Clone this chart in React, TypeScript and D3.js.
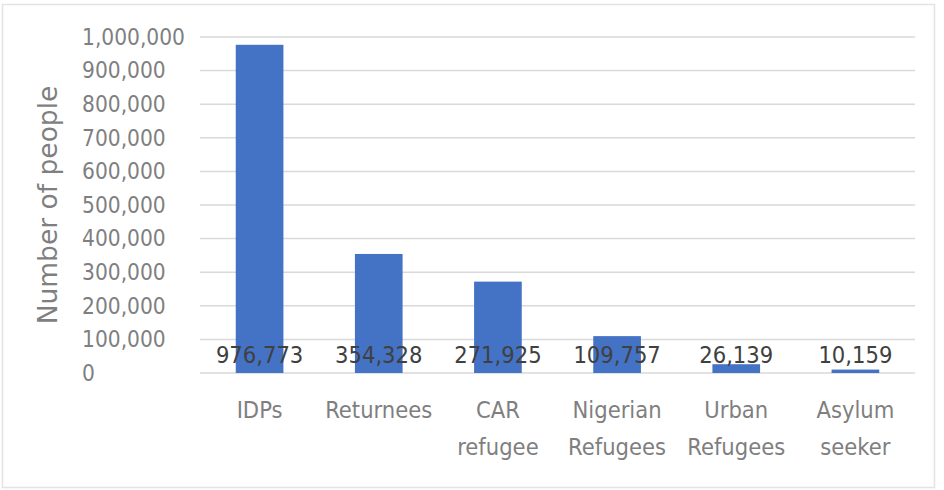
import React, { useEffect, useRef } from 'react';
import * as d3 from 'd3';

const categories = ['IDPs', 'Returnees', 'CAR refugee', 'Nigerian Refugees', 'Urban Refugees', 'Asylum seeker'];
const categoryLines = [['IDPs'], ['Returnees'], ['CAR', 'refugee'], ['Nigerian', 'Refugees'], ['Urban', 'Refugees'], ['Asylum', 'seeker']];
const values = [976773, 354328, 271925, 109757, 26139, 10159];
const yTicks = [0, 100000, 200000, 300000, 400000, 500000, 600000, 700000, 800000, 900000, 1000000];

const FONT = '"DejaVu Sans Condensed", "Liberation Sans Narrow", "Liberation Sans", sans-serif';
const TITLE_FONT = '"DejaVu Sans", "Liberation Sans", sans-serif';

const App: React.FC = () => {
  const svgRef = useRef<SVGSVGElement>(null);

  useEffect(() => {
    if (!svgRef.current) return;
    const width = 944;
    const height = 490;
    const margin = { top: 37, right: 29, bottom: 117, left: 200 };

    d3.select(svgRef.current).selectAll('*').remove();
    const svg = d3.select(svgRef.current).attr('width', width).attr('height', height);

    // chart frame
    svg.append('rect')
      .attr('x', 2.5).attr('y', 4.5)
      .attr('width', 932).attr('height', 483)
      .attr('fill', '#fff')
      .attr('stroke', '#e3e3e3')
      .attr('stroke-width', 1.5);

    const x = d3.scaleBand()
      .domain(categories)
      .range([margin.left, width - margin.right])
      .paddingInner(0.6)
      .paddingOuter(0.3);

    const y = d3.scaleLinear()
      .domain([0, 1000000])
      .range([height - margin.bottom, margin.top]);

    // gridlines
    svg.append('g')
      .selectAll('line')
      .data(yTicks)
      .enter()
      .append('line')
      .attr('x1', margin.left)
      .attr('x2', width - margin.right)
      .attr('y1', d => y(d))
      .attr('y2', d => y(d))
      .attr('stroke', '#d9d9d9')
      .attr('stroke-width', 1.5);

    // y tick labels (left aligned like the original)
    svg.append('g')
      .selectAll('text')
      .data(yTicks)
      .enter()
      .append('text')
      .attr('x', 82)
      .attr('y', d => y(d))
      .attr('dy', '0.35em')
      .attr('font-family', FONT)
      .attr('font-size', 22.5)
      .attr('fill', '#7f7f7f')
      .text(d => d3.format(',')(d));

    // bars
    svg.append('g')
      .selectAll('rect')
      .data(values)
      .enter()
      .append('rect')
      .attr('x', (_, i) => x(categories[i]) as number)
      .attr('y', d => y(d))
      .attr('width', x.bandwidth())
      .attr('height', d => y(0) - y(d))
      .attr('fill', '#4472c4');

    // data labels at inside base
    svg.append('g')
      .selectAll('text')
      .data(values)
      .enter()
      .append('text')
      .attr('x', (_, i) => (x(categories[i]) as number) + x.bandwidth() / 2)
      .attr('y', y(0) - 18)
      .attr('dy', '0.35em')
      .attr('text-anchor', 'middle')
      .attr('font-family', FONT)
      .attr('font-size', 23.5)
      .attr('fill', '#404040')
      .text(d => d3.format(',')(d));

    // category labels
    const cat = svg.append('g')
      .selectAll('text')
      .data(categoryLines)
      .enter()
      .append('text')
      .attr('x', (_, i) => (x(categories[i]) as number) + x.bandwidth() / 2)
      .attr('y', 410)
      .attr('dy', '0.35em')
      .attr('text-anchor', 'middle')
      .attr('font-family', FONT)
      .attr('font-size', 23.5)
      .attr('fill', '#7f7f7f');
    cat.selectAll('tspan')
      .data(d => d)
      .enter()
      .append('tspan')
      .attr('x', function () {
        return (this.parentNode as SVGTextElement).getAttribute('x');
      })
      .attr('dy', (_, j) => (j === 0 ? '0.35em' : '37'))
      .text(d => d);

    // y axis title
    svg.append('text')
      .attr('transform', `translate(48,${(y(0) + y(1000000)) / 2}) rotate(-90)`)
      .attr('dy', '0.35em')
      .attr('text-anchor', 'middle')
      .attr('font-family', TITLE_FONT)
      .attr('font-size', 26.5)
      .attr('fill', '#7f7f7f')
      .text('Number of people');
  }, []);

  return (
    <div style={{ position: 'absolute', left: 0, top: 0 }}>
      <svg ref={svgRef} style={{ display: 'block' }}></svg>
    </div>
  );
};

export default App;
